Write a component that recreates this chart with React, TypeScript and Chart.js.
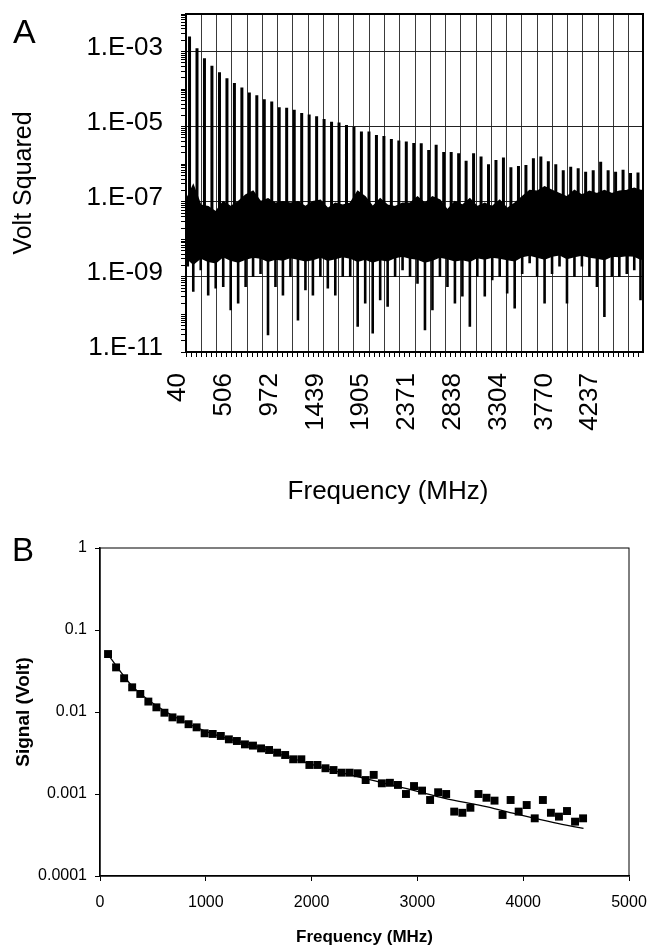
import React, { useEffect, useRef } from 'react';
import { Chart, registerables } from 'chart.js';

Chart.register(...registerables);

// ---------- Panel A : spectrum (Volt squared) ----------
const harmonicFreqMHz = [
  76, 152, 228, 304, 381, 457, 533, 609, 685, 761,
  837, 913, 989, 1065, 1142, 1218, 1294, 1370, 1446, 1522,
  1598, 1674, 1750, 1826, 1903, 1979, 2055, 2131, 2207, 2283,
  2359, 2435, 2511, 2587, 2664, 2740, 2816, 2892, 2968, 3044,
  3120, 3196, 3272, 3348, 3425, 3501, 3577, 3653, 3729, 3805,
  3881, 3957, 4033, 4109, 4186, 4262, 4338, 4414, 4490, 4566,
  4642,
];

const spectrumPeakV2 = [
  2.5e-3, 1.23e-3, 6.6e-4, 4.2e-4, 2.8e-4, 1.95e-4, 1.45e-4, 1.1e-4, 8.1e-5, 6.9e-5,
  5.4e-5, 4.7e-5, 3.3e-5, 3.2e-5, 2.8e-5, 2.3e-5, 2.1e-5, 1.9e-5, 1.6e-5, 1.35e-5,
  1.3e-5, 1.1e-5, 1.0e-5, 7.4e-6, 7.4e-6, 6.0e-6, 5.6e-6, 4.7e-6, 4.3e-6, 4.0e-6,
  3.7e-6, 3.6e-6, 2.4e-6, 3.3e-6, 2.1e-6, 2.1e-6, 1.95e-6, 1.23e-6, 1.95e-6, 1.6e-6,
  1.0e-6, 1.3e-6, 1.5e-6, 8.3e-7, 9.0e-7, 9.5e-7, 1.45e-6, 1.6e-6, 1.2e-6, 1.0e-6,
  6.9e-7, 8.5e-7, 7.8e-7, 6.3e-7, 6.9e-7, 1.17e-6, 6.9e-7, 6.3e-7, 7.1e-7, 5.8e-7,
  6.0e-7,
];

// noise band, one sample per gap between harmonics (62 gaps)
const noiseUpperV2 = [
  1.35e-7, 2.75e-7, 8.1e-8, 7.4e-8, 5.4e-8, 1.0e-7, 7.4e-8, 1.0e-7, 1.5e-7, 1.9e-7,
  1.0e-7, 1.2e-7, 9.1e-8, 1.0e-7, 9.1e-8, 1.0e-7, 7.4e-8, 1.0e-7, 1.1e-7, 6.6e-8,
  9.1e-8, 8.1e-8, 9.1e-8, 1.9e-7, 1.35e-7, 7.4e-8, 1.2e-7, 8.1e-8, 7.4e-8, 9.1e-8,
  9.1e-8, 1.35e-7, 9.1e-8, 1.35e-7, 1.1e-7, 6.0e-8, 1.0e-7, 8.1e-8, 1.2e-7, 7.4e-8,
  9.1e-8, 7.4e-8, 1.1e-7, 6.6e-8, 9.1e-8, 1.35e-7, 2.0e-7, 1.9e-7, 2.5e-7, 2.0e-7,
  1.65e-7, 1.35e-7, 2.0e-7, 1.5e-7, 1.9e-7, 1.65e-7, 2.0e-7, 1.65e-7, 1.9e-7, 2.0e-7,
  2.3e-7, 2.0e-7,
];

const noiseLowerV2 = [
  3.0e-9, 2.2e-9, 3.2e-9, 2.6e-9, 2.4e-9, 3.5e-9, 2.8e-9, 2.5e-9, 3.0e-9, 3.4e-9,
  3.2e-9, 2.6e-9, 3.0e-9, 2.8e-9, 3.3e-9, 3.0e-9, 2.7e-9, 2.9e-9, 3.4e-9, 2.8e-9,
  3.1e-9, 3.5e-9, 3.2e-9, 2.6e-9, 3.0e-9, 2.5e-9, 2.9e-9, 2.7e-9, 3.3e-9, 3.6e-9,
  3.2e-9, 3.0e-9, 2.5e-9, 2.8e-9, 3.4e-9, 3.1e-9, 2.7e-9, 2.9e-9, 2.6e-9, 3.3e-9,
  3.0e-9, 3.4e-9, 3.2e-9, 2.9e-9, 2.7e-9, 3.5e-9, 3.8e-9, 3.4e-9, 3.0e-9, 3.6e-9,
  3.9e-9, 3.1e-9, 3.5e-9, 3.8e-9, 3.4e-9, 3.2e-9, 2.9e-9, 3.6e-9, 3.5e-9, 3.7e-9,
  3.6e-9, 3.0e-9,
];

const noiseDipV2 = [
  1.9e-9, 4.0e-10, 1.5e-9, 3.2e-10, 4.9e-10, 5.4e-10, 1.3e-10, 1.95e-10, 5.4e-10, 1.0e-9,
  1.2e-9, 2.8e-11, 5.4e-10, 3.2e-10, 1.0e-9, 6.9e-11, 4.4e-10, 3.2e-10, 1.0e-9, 4.9e-10,
  3.2e-10, 1.0e-9, 1.0e-9, 4.7e-11, 1.95e-10, 3.1e-11, 2.4e-10, 1.6e-10, 1.0e-9, 1.5e-9,
  1.0e-9, 6.6e-10, 3.8e-11, 1.3e-10, 1.0e-9, 5.4e-10, 1.95e-10, 3.0e-10, 4.7e-11, 1.0e-9,
  3.0e-10, 8.1e-10, 1.0e-9, 3.6e-10, 1.45e-10, 1.2e-9, 2.3e-9, 1.0e-9, 1.95e-10, 1.2e-9,
  1.9e-9, 1.95e-10, 1.0e-9, 1.9e-9, 1.0e-9, 5.4e-10, 8.5e-11, 1.0e-9, 1.0e-9, 1.2e-9,
  1.5e-9, 2.4e-10,
];

const freqTickLabelsA = [40, 506, 972, 1439, 1905, 2371, 2838, 3304, 3770, 4237];
const freqMinA = 40;
const freqMaxA = 4693;
const yTickValuesA = [1e-11, 1e-9, 1e-7, 1e-5, 1e-3];
const yTickLabelsA = ['1.E-11', '1.E-09', '1.E-07', '1.E-05', '1.E-03'];

// ---------- Panel B : harmonic amplitude (Volt) ----------
const signalVolt = [
  0.0509, 0.035, 0.0258, 0.020, 0.0166, 0.0134, 0.0114, 0.0098, 0.0086, 0.0081,
  0.0071, 0.0065, 0.0055, 0.0054, 0.0051, 0.00464, 0.00443, 0.00403, 0.00389, 0.0036,
  0.00344, 0.00319, 0.00299, 0.00265, 0.00265, 0.00226, 0.00226, 0.00206, 0.00196, 0.00182,
  0.00182, 0.00179, 0.00148, 0.00171, 0.00135, 0.00137, 0.00129, 0.00100, 0.00125, 0.0011,
  0.000845, 0.00105, 0.00100, 0.00061, 0.00059, 0.00068, 0.00100, 0.00090, 0.00083, 0.000555,
  0.000845, 0.00061, 0.000734, 0.000505, 0.000845, 0.00059, 0.00053, 0.00062, 0.00046, 0.000505,
];
const fitFreqMHz = [76, 300, 600, 1000, 1500, 2000, 2500, 3000, 3250, 3650, 3970, 4290, 4570];
const fitSignalVolt = [0.05, 0.021, 0.0105, 0.0058, 0.0037, 0.0023, 0.00155, 0.00108, 0.00089, 0.0007, 0.000555, 0.000447, 0.00038];
const xTickValuesB = [0, 1000, 2000, 3000, 4000, 5000];
const yTickValuesB = [0.0001, 0.001, 0.01, 0.1, 1];
const yTickLabelsB = ['0.0001', '0.001', '0.01', '0.1', '1'];

const SANS = "'Liberation Sans', Arial, sans-serif";

const framePlugin = (lw: number) => ({
  id: 'frame',
  afterDraw(chart: any) {
    const { ctx, chartArea } = chart;
    const { left, top, right, bottom } = chartArea;
    ctx.save();
    ctx.strokeStyle = '#000';
    ctx.lineWidth = lw;
    ctx.strokeRect(left, top, right - left, bottom - top);
    ctx.restore();
  },
});

const sameLog = (a: number, b: number) => Math.abs(Math.log10(a) - Math.log10(b)) < 1e-6;

// fix the axis box size and drop the automatic label overhang padding
const fixBox = (dim: 'width' | 'height', size: number) => (s: any) => {
  s[dim] = size;
  s.paddingTop = 0;
  s.paddingBottom = 0;
  s.paddingLeft = 0;
  s.paddingRight = 0;
};

function SpectrumChart() {
  const ref = useRef<HTMLCanvasElement | null>(null);
  useEffect(() => {
    if (!ref.current) return;
    const nGaps = noiseUpperV2.length;
    const gapX = noiseUpperV2.map((_, k) => {
      const lo = k === 0 ? freqMinA : harmonicFreqMHz[k - 1];
      const hi = k === nGaps - 1 ? freqMaxA : harmonicFreqMHz[k];
      return (lo + hi) / 2;
    });
    const upper = [{ x: freqMinA, y: noiseUpperV2[0] }, ...gapX.map((x, k) => ({ x, y: noiseUpperV2[k] })), { x: freqMaxA, y: noiseUpperV2[nGaps - 1] }];
    const lower = [{ x: freqMinA, y: noiseLowerV2[0] }, ...gapX.map((x, k) => ({ x, y: noiseLowerV2[k] })), { x: freqMaxA, y: noiseLowerV2[nGaps - 1] }];
    const dips: any[] = [];
    gapX.forEach((x, k) => {
      dips.push({ x, y: noiseLowerV2[k] * 1.5 }, { x, y: noiseDipV2[k] }, { x, y: null });
    });
    const peaks: any[] = [];
    harmonicFreqMHz.forEach((f, i) => {
      peaks.push({ x: f, y: 2e-8 }, { x: f, y: spectrumPeakV2[i] }, { x: f, y: null });
    });

    const tickStep = (freqTickLabelsA[freqTickLabelsA.length - 1] - freqTickLabelsA[0]) / (freqTickLabelsA.length - 1) / 9;

    const chart = new Chart(ref.current, {
      type: 'line',
      data: {
        datasets: [
          { data: upper, borderColor: '#000', backgroundColor: '#000', borderWidth: 1.5, pointRadius: 0, fill: '+1' },
          { data: lower, borderColor: '#000', borderWidth: 1.5, pointRadius: 0, fill: false },
          { data: dips, borderColor: '#000', borderWidth: 2.6, pointRadius: 0, fill: false, spanGaps: false },
          { data: peaks, borderColor: '#000', borderWidth: 3, pointRadius: 0, fill: false, spanGaps: false },
        ],
      },
      options: {
        animation: false,
        responsive: false,
        devicePixelRatio: 1,
        layout: { autoPadding: false, padding: { top: 14, right: 4, left: 0, bottom: 0 } },
        plugins: { legend: { display: false }, tooltip: { enabled: false } },
        scales: {
          x: {
            type: 'linear',
            min: freqMinA,
            max: freqMaxA,
            afterBuildTicks: (s: any) => {
              const t: any[] = [];
              for (let i = 0; freqTickLabelsA[0] + i * tickStep <= freqMaxA + 0.01; i++) t.push({ value: freqTickLabelsA[0] + i * tickStep });
              s.ticks = t;
            },
            afterFit: fixBox('height', 168),
            ticks: {
              autoSkip: false,
              minRotation: 90,
              maxRotation: 90,
              padding: 16,
              labelOffset: -8,
              color: '#000',
              font: { family: SANS, size: 26 },
              callback: (_v: any, i: number) => (i % 9 === 0 && freqTickLabelsA[i / 9] !== undefined ? String(freqTickLabelsA[i / 9]) : ''),
            },
            grid: {
              color: (c: any) => (c.index % 3 === 0 && c.index > 0 ? '#3a3a3a' : 'rgba(0,0,0,0)'),
              tickColor: '#000',
              tickLength: 5,
              lineWidth: 1,
            },
            border: { display: true, color: '#000', width: 2 },
          },
          y: {
            type: 'logarithmic',
            min: 1e-11,
            max: 1e-2,
            afterBuildTicks: (s: any) => {
              const t: any[] = [];
              for (let e = -11; e <= -2; e++) for (let m = 1; m <= 9; m++) {
                const v = m * Math.pow(10, e);
                if (v <= 1.0001e-2) t.push({ value: v });
              }
              s.ticks = t;
            },
            afterFit: fixBox('width', 186),
            ticks: {
              autoSkip: false,
              padding: 18,
              labelOffset: -4,
              color: '#000',
              font: { family: SANS, size: 26 },
              callback: (v: any) => {
                const i = yTickValuesA.findIndex((t) => sameLog(t, Number(v)));
                return i >= 0 ? yTickLabelsA[i] : '';
              },
            },
            grid: {
              color: (c: any) => {
                const v = c.tick ? c.tick.value : 0;
                return yTickValuesA.some((t) => sameLog(t, v)) && v > 2e-11 ? '#222' : 'rgba(0,0,0,0)';
              },
              tickColor: '#000',
              tickLength: 5,
              lineWidth: 1,
            },
            border: { display: true, color: '#000', width: 2 },
            title: { display: true, text: 'Volt Squared', color: '#000', font: { family: SANS, size: 25 }, padding: { top: 9, bottom: 0 } },
          },
        },
      } as any,
      plugins: [framePlugin(2)],
    });
    return () => chart.destroy();
  }, []);
  return <canvas ref={ref} width={647} height={520} style={{ display: 'block', width: 647, height: 520 }} />;
}

function SignalChart() {
  const ref = useRef<HTMLCanvasElement | null>(null);
  useEffect(() => {
    if (!ref.current) return;
    const pts = signalVolt.map((v, i) => ({ x: harmonicFreqMHz[i], y: v }));
    const fit = fitFreqMHz.map((f, i) => ({ x: f, y: fitSignalVolt[i] }));
    const chart = new Chart(ref.current, {
      type: 'scatter',
      data: {
        datasets: [
          { data: pts, pointStyle: 'rect', pointRadius: 5.6, backgroundColor: '#000', borderColor: '#000', borderWidth: 0, showLine: false, order: 0 },
          { type: 'line', data: fit, borderColor: '#000', borderWidth: 1.3, pointRadius: 0, showLine: true, tension: 0.4, cubicInterpolationMode: 'monotone', fill: false, order: 1 },
        ],
      },
      options: {
        animation: false,
        responsive: false,
        devicePixelRatio: 1,
        layout: { autoPadding: false, padding: { top: 28, right: 18, left: 0, bottom: 0 } },
        plugins: { legend: { display: false }, tooltip: { enabled: false } },
        scales: {
          x: {
            type: 'linear',
            min: 0,
            max: 5000,
            afterBuildTicks: (s: any) => { s.ticks = xTickValuesB.map((v) => ({ value: v })); },
            afterFit: fixBox('height', 73),
            ticks: { autoSkip: false, maxRotation: 0, padding: 12, color: '#000', font: { family: SANS, size: 16 }, callback: (v: any) => String(v) },
            grid: { drawOnChartArea: false, tickColor: '#000', tickLength: 5 },
            border: { display: true, color: '#000', width: 1.5 },
            title: { display: true, text: 'Frequency (MHz)', color: '#000', font: { family: SANS, size: 17, weight: 'bold' }, padding: { top: 0, bottom: 1 } },
          },
          y: {
            type: 'logarithmic',
            min: 0.0001,
            max: 1,
            afterBuildTicks: (s: any) => { s.ticks = yTickValuesB.map((v) => ({ value: v })); },
            afterFit: fixBox('width', 100),
            ticks: {
              autoSkip: false,
              padding: 8,
              color: '#000',
              font: { family: SANS, size: 16 },
              callback: (v: any) => {
                const i = yTickValuesB.findIndex((t) => sameLog(t, Number(v)));
                return i >= 0 ? yTickLabelsB[i] : '';
              },
            },
            grid: { drawOnChartArea: false, tickColor: '#000', tickLength: 5 },
            border: { display: true, color: '#000', width: 1.5 },
            title: { display: true, text: 'Signal (Volt)', color: '#000', font: { family: SANS, size: 19, weight: 'bold' }, padding: { top: 12, bottom: 0 } },
          },
        },
      } as any,
      plugins: [framePlugin(1)],
    });
    return () => chart.destroy();
  }, []);
  return <canvas ref={ref} width={647} height={429} style={{ display: 'block', width: 647, height: 429 }} />;
}

export default function App() {
  return (
    <div style={{ position: 'absolute', left: 0, top: 0, width: 647, height: 949, background: '#fff', overflow: 'hidden', fontFamily: SANS }}>
      <div style={{ position: 'absolute', left: 0, top: 0 }}>
        <SpectrumChart />
      </div>
      <div style={{ position: 'absolute', left: 0, top: 520 }}>
        <SignalChart />
      </div>
      <div style={{ position: 'absolute', left: 13, top: 11, fontSize: 34, lineHeight: '40px', color: '#000' }}>A</div>
      <div style={{ position: 'absolute', left: 388, top: 475, transform: 'translateX(-50%)', fontSize: 26, lineHeight: '30px', whiteSpace: 'nowrap', color: '#000' }}>Frequency (MHz)</div>
      <div style={{ position: 'absolute', left: 12, top: 531, fontSize: 33, lineHeight: '38px', color: '#000' }}>B</div>
    </div>
  );
}
